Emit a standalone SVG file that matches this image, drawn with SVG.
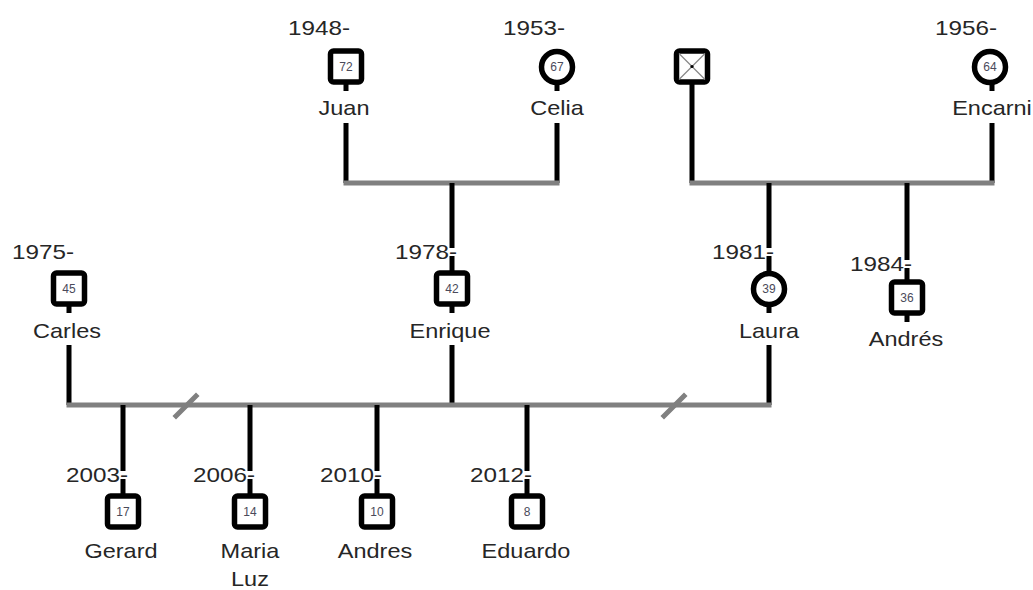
<svg xmlns="http://www.w3.org/2000/svg" width="1033" height="590" viewBox="0 0 1033 590">
<style>
.t{font-family:"Liberation Sans",Arial,sans-serif;font-size:21px;fill:#262626}
.m{text-anchor:middle}
.e{text-anchor:end}
.age{font-family:"Liberation Sans",Arial,sans-serif;font-size:12px;fill:#4a4a5a;text-anchor:middle}
.box{fill:#fff;stroke:#000;stroke-width:5.5}
.ln{stroke:#000;stroke-width:5;fill:none}
.cp{stroke:#808080;stroke-width:5;fill:none;stroke-linecap:square}
</style>
<rect width="1033" height="590" fill="#fff"/>
<g id="connectors">
  <path class="ln" d="M346 84V91M346 123V183M557 84V91M557 123V183"/>
  <path class="cp" d="M346 183H557"/>
  <path class="ln" d="M452 183V248M452 256V271"/>
  <path class="ln" d="M692 84V183M992 84V91M992 123V183"/>
  <path class="cp" d="M692 183H992"/>
  <path class="ln" d="M769 183V248M769 256V272"/>
  <path class="ln" d="M907 183V260M907 268V281"/>
  <path class="ln" d="M69 305V313M452 305V313M769 306V313M907 315V322"/>
  <path class="ln" d="M69 345V405M452 345V405M769 345V405"/>
  <path class="cp" d="M69 405H769"/>
  <path class="cp" d="M176 416L196 396M664 416L684 396" stroke-linecap="butt"/>
  <path class="ln" d="M123 405V471M123 479V494M250 405V471M250 479V494M377 405V471M377 479V494M527 405V471M527 479V494"/>
</g>
<g id="juan">
  <text class="t" x="350" y="35" text-anchor="end" textLength="62" lengthAdjust="spacingAndGlyphs">1948-</text>
  <rect class="box" x="330.5" y="51" width="31" height="31" rx="3"/>
  <text class="age" x="346" y="71">72</text>
  <text class="t m" x="344" y="115" textLength="51" lengthAdjust="spacingAndGlyphs">Juan</text>
</g>
<g id="celia">
  <text class="t" x="565" y="35" text-anchor="end" textLength="62" lengthAdjust="spacingAndGlyphs">1953-</text>
  <circle class="box" cx="557" cy="67" r="15.5"/>
  <text class="age" x="557" y="71">67</text>
  <text class="t m" x="557" y="115" textLength="53.5" lengthAdjust="spacingAndGlyphs">Celia</text>
</g>
<g id="deceased">
  <rect class="box" x="676.5" y="51" width="31" height="31" rx="3"/>
  <path d="M679 53.5L705 79.5M705 53.5L679 79.5" stroke="#888" stroke-width="1.2"/>
  <circle cx="692" cy="66.5" r="1.6" fill="#000"/>
</g>
<g id="encarni">
  <text class="t" x="997" y="35" text-anchor="end" textLength="62" lengthAdjust="spacingAndGlyphs">1956-</text>
  <circle class="box" cx="990" cy="67" r="15.5"/>
  <text class="age" x="990" y="71">64</text>
  <text class="t m" x="992" y="115" textLength="79.7" lengthAdjust="spacingAndGlyphs">Encarni</text>
</g>
<g id="carles">
  <text class="t" x="74" y="259" text-anchor="end" textLength="62" lengthAdjust="spacingAndGlyphs">1975-</text>
  <rect class="box" x="53.5" y="273" width="31" height="31" rx="3"/>
  <text class="age" x="69" y="293">45</text>
  <text class="t m" x="67" y="338" textLength="67.9" lengthAdjust="spacingAndGlyphs">Carles</text>
</g>
<g id="enrique">
  <text class="t" x="457" y="259" text-anchor="end" textLength="62" lengthAdjust="spacingAndGlyphs">1978-</text>
  <rect class="box" x="436.5" y="273" width="31" height="31" rx="3"/>
  <text class="age" x="452" y="293">42</text>
  <text class="t m" x="450" y="338" textLength="81" lengthAdjust="spacingAndGlyphs">Enrique</text>
</g>
<g id="laura">
  <text class="t" x="774" y="259" text-anchor="end" textLength="62" lengthAdjust="spacingAndGlyphs">1981-</text>
  <circle class="box" cx="769" cy="289" r="15.5"/>
  <text class="age" x="769" y="293">39</text>
  <text class="t m" x="769" y="338" textLength="60" lengthAdjust="spacingAndGlyphs">Laura</text>
</g>
<g id="andres-1984">
  <text class="t" x="912" y="271" text-anchor="end" textLength="62" lengthAdjust="spacingAndGlyphs">1984-</text>
  <rect class="box" x="891.5" y="282" width="31" height="31" rx="3"/>
  <text class="age" x="907" y="302">36</text>
  <text class="t m" x="906" y="346" textLength="74.4" lengthAdjust="spacingAndGlyphs">Andrés</text>
</g>
<g id="gerard">
  <text class="t" x="128" y="482" text-anchor="end" textLength="62" lengthAdjust="spacingAndGlyphs">2003-</text>
  <rect class="box" x="107.5" y="496" width="31" height="31" rx="3"/>
  <text class="age" x="123" y="516">17</text>
  <text class="t m" x="121" y="558" textLength="73.1" lengthAdjust="spacingAndGlyphs">Gerard</text>
</g>
<g id="maria-luz">
  <text class="t" x="255" y="482" text-anchor="end" textLength="62" lengthAdjust="spacingAndGlyphs">2006-</text>
  <rect class="box" x="234.5" y="496" width="31" height="31" rx="3"/>
  <text class="age" x="250" y="516">14</text>
  <text class="t m" x="250" y="558" textLength="58.8" lengthAdjust="spacingAndGlyphs">Maria</text>
  <text class="t m" x="250" y="586" textLength="37.9" lengthAdjust="spacingAndGlyphs">Luz</text>
</g>
<g id="andres-2010">
  <text class="t" x="382" y="482" text-anchor="end" textLength="62" lengthAdjust="spacingAndGlyphs">2010-</text>
  <rect class="box" x="361.5" y="496" width="31" height="31" rx="3"/>
  <text class="age" x="377" y="516">10</text>
  <text class="t m" x="375" y="558" textLength="74.4" lengthAdjust="spacingAndGlyphs">Andres</text>
</g>
<g id="eduardo">
  <text class="t" x="532" y="482" text-anchor="end" textLength="62" lengthAdjust="spacingAndGlyphs">2012-</text>
  <rect class="box" x="511.5" y="496" width="31" height="31" rx="3"/>
  <text class="age" x="527" y="516">8</text>
  <text class="t m" x="526" y="558" textLength="88.8" lengthAdjust="spacingAndGlyphs">Eduardo</text>
</g>
</svg>
